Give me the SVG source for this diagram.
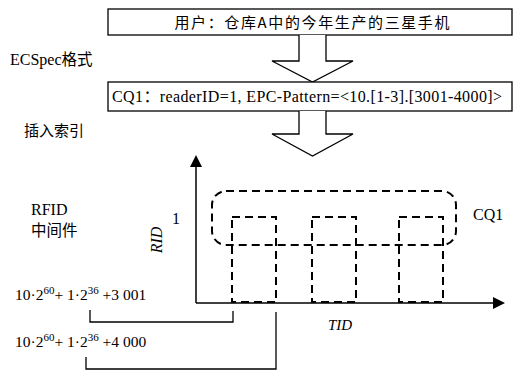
<svg xmlns="http://www.w3.org/2000/svg" width="513" height="370" viewBox="0 0 513 370">
<style>
.box{fill:#fff;stroke:#000;stroke-width:1.3}
.arr{fill:#fff;stroke:#000;stroke-width:1.3;stroke-linejoin:miter}
.ax{fill:none;stroke:#000;stroke-width:1.5}
.dash{fill:none;stroke:#000;stroke-width:2;stroke-dasharray:8 5}
.ln{fill:none;stroke:#000;stroke-width:1.3}
text{fill:#000}
</style>
<g id="user-box">
<rect class="box" x="108" y="9" width="404" height="26"/>
<text x="312" y="28" font-family="Noto Sans CJK SC, sans-serif" font-size="15" text-anchor="middle" textLength="275" lengthAdjust="spacing">用户：仓库A中的今年生产的三星手机</text>
</g>
<g id="arrow1">
<path class="arr" d="M299,35 V61 H272 L312.5,82 L353,61 H326 V35"/>
</g>
<g id="cq-box">
<rect class="box" x="108" y="82" width="404" height="29"/>
<text x="112" y="102" font-family="Liberation Serif, Noto Sans CJK SC, serif" font-size="16" textLength="390" lengthAdjust="spacing">CQ1：readerID=1, EPC-Pattern=&lt;10.[1-3].[3001-4000]&gt;</text>
</g>
<g id="arrow2">
<path class="arr" d="M299,111 V134 H272 L312.5,156 L353,134 H326 V111"/>
</g>
<g id="labels">
<text x="10" y="65" font-family="Liberation Serif, Noto Sans CJK SC, serif" font-size="16">ECSpec<tspan font-family="Noto Sans CJK SC, sans-serif" font-size="15.5">格式</tspan></text>
<text x="24" y="136" font-family="Noto Sans CJK SC, sans-serif" font-size="15">插入索引</text>
<text x="31" y="215" font-family="Liberation Serif, serif" font-size="16">RFID</text>
<text x="31" y="236" font-family="Noto Sans CJK SC, sans-serif" font-size="15.5">中间件</text>
</g>
<g id="chart">
<path class="ax" d="M196,303 V167"/>
<path d="M190,167 L196,155 L202,167 Z" fill="#000"/>
<path class="ax" d="M196,303 H493"/>
<path d="M493,297 L505,303 L493,309 Z" fill="#000"/>
<text transform="translate(162,240) rotate(-90)" text-anchor="middle" font-family="Liberation Serif, serif" font-style="italic" font-size="16">RID</text>
<text x="172" y="224" font-family="Liberation Serif, serif" font-size="16">1</text>
<text x="340" y="330" text-anchor="middle" font-family="Liberation Serif, serif" font-style="italic" font-size="15">TID</text>
</g>
<g id="cq1-region">
<rect class="dash" x="212" y="191" width="244" height="54" rx="14" ry="14"/>
<text x="473" y="220" font-family="Liberation Serif, serif" font-size="16">CQ1</text>
</g>
<g id="cells">
<rect class="dash" x="232" y="217" width="44" height="85"/>
<rect class="dash" x="312" y="217" width="44" height="85"/>
<rect class="dash" x="399" y="217" width="44" height="85"/>
</g>
<g id="connectors">
<path class="ln" d="M90,310 V322 H233 V311"/>
<path class="ln" d="M86,357 V369 H276 V312"/>
</g>
<g id="formulas">
<text x="15" y="300" font-family="Liberation Serif, serif" font-size="15.5">10·2<tspan font-size="11" dy="-6">60</tspan><tspan dy="6">+ 1·2</tspan><tspan font-size="11" dy="-6">36</tspan><tspan dy="6"> +3 001</tspan></text>
<text x="15" y="347" font-family="Liberation Serif, serif" font-size="15.5">10·2<tspan font-size="11" dy="-6">60</tspan><tspan dy="6">+ 1·2</tspan><tspan font-size="11" dy="-6">36</tspan><tspan dy="6"> +4 000</tspan></text>
</g>
</svg>
